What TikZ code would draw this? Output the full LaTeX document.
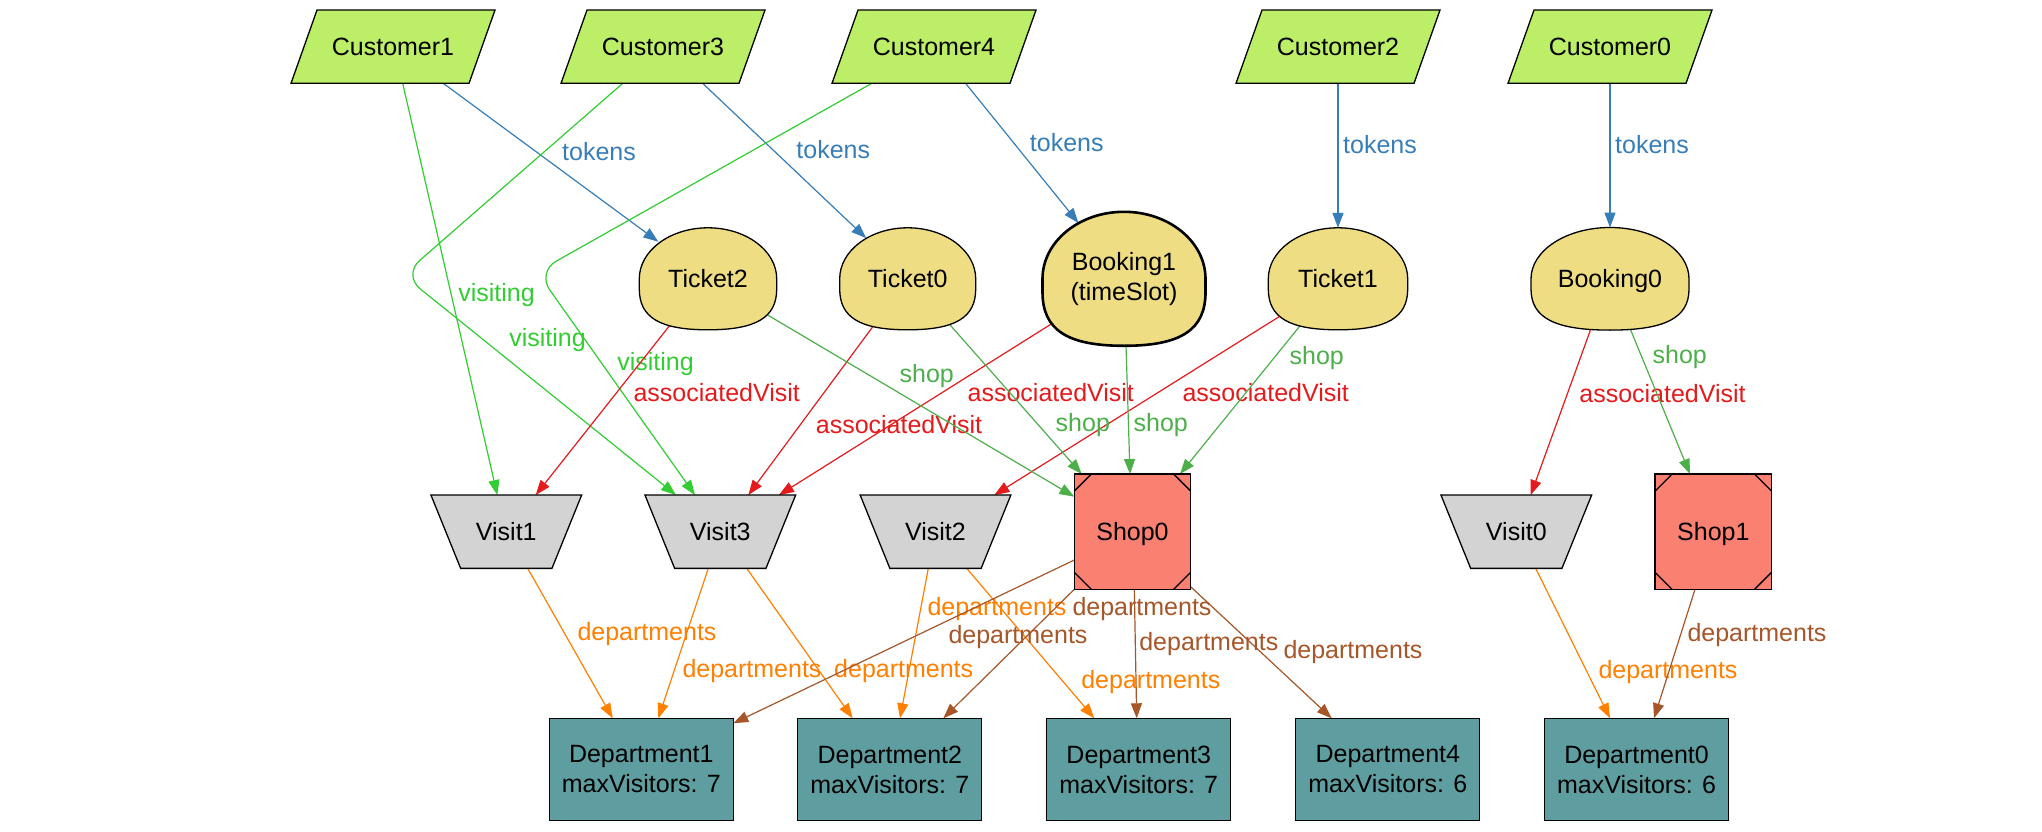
\documentclass[tikz,border=0pt]{standalone}
\usepackage{fontspec}
\setmainfont{Liberation Sans}
\usetikzlibrary{arrows.meta}

\definecolor{custgreen}{HTML}{BCEE68}
\definecolor{tokyellow}{HTML}{EEDD82}
\definecolor{visitgray}{HTML}{D3D3D3}
\definecolor{shopsalmon}{HTML}{FA8072}
\definecolor{deptcadet}{HTML}{5F9EA0}
\definecolor{tokblue}{HTML}{377EB8}
\definecolor{assocred}{HTML}{E41A1C}
\definecolor{shopgreen}{HTML}{4DAF4A}
\definecolor{visitlime}{HTML}{32CD32}
\definecolor{deptorange}{HTML}{FF7F00}
\definecolor{deptbrown}{HTML}{A65628}

\pgfdeclarelayer{edgelayer}
\pgfdeclarelayer{shapelayer}
\pgfsetlayers{edgelayer,shapelayer,main}

\begin{document}
\begin{tikzpicture}[x=1pt, y=-1pt,
  every node/.style={font=\fontsize{25}{30}\selectfont, inner sep=0pt, outer sep=0pt},
  oneline/.style={text height=18.2pt, text depth=0pt},
  custnode/.style={oneline, minimum width=204, minimum height=73.3},
  visitnode/.style={oneline, minimum width=150.7, minimum height=73.3},
  shopnode/.style={oneline, draw, line width=1.3pt, fill=shopsalmon, minimum width=116.4, minimum height=115.3},
  deptnode/.style={draw, line width=1.3pt, fill=deptcadet, minimum width=184, minimum height=102.4, align=center},
  custbody/.style={draw, line width=1.3pt, fill=custgreen},
  tokbody/.style={draw, line width=1.3pt, fill=tokyellow},
  visitbody/.style={draw, line width=1.3pt, fill=visitgray},
  link/.style={line width=1.2pt, -{Triangle[length=15pt,width=11pt]}},
  tokarrow/.style={link, color=tokblue},
  visarrow/.style={link, color=visitlime},
  assocarrow/.style={link, color=assocred},
  shoparrow/.style={link, color=shopgreen},
  deptarrow/.style={link, color=deptorange},
  deptbarrow/.style={link, color=deptbrown},
  lbl/.style={anchor=base}
]
\useasboundingbox (0,0) rectangle (2042,832);

% customers
\node[custnode] (c1) at (393,46.7) {Customer1};
\node[custnode] (c3) at (663,46.7) {Customer3};
\node[custnode] (c4) at (934,46.7) {Customer4};
\node[custnode] (c2) at (1338,46.7) {Customer2};
\node[custnode] (c0) at (1610,46.7) {Customer0};

% tickets and bookings
\node[oneline] (t2) at (708,278.8) {Ticket2};
\node[oneline] (t0) at (907.7,278.8) {Ticket0};
\node[align=center] (b1) at (1124,278.8) {Booking1\\(timeSlot)};
\node[oneline] (t1) at (1338,278.8) {Ticket1};
\node[oneline] (b0) at (1610,278.8) {Booking0};

% visits and shops
\node[visitnode] (v1) at (506.3,531.7) {Visit1};
\node[visitnode] (v3) at (720.3,531.7) {Visit3};
\node[visitnode] (v2) at (935.5,531.7) {Visit2};
\node[shopnode] (s0) at (1132.5,531.7) {Shop0};
\node[visitnode] (v0) at (1516.3,531.7) {Visit0};
\node[shopnode] (s1) at (1713.3,531.7) {Shop1};

% departments
\node[deptnode] (d1) at (641.3,769.5) {Department1\\maxVisitors: 7};
\node[deptnode] (d2) at (889.8,769.5) {Department2\\maxVisitors: 7};
\node[deptnode] (d3) at (1138.7,769.5) {Department3\\maxVisitors: 7};
\node[deptnode] (d4) at (1387.8,769.5) {Department4\\maxVisitors: 6};
\node[deptnode] (d0) at (1636.5,769.5) {Department0\\maxVisitors: 6};

\foreach \n in {s0,s1} {
  \draw[line width=1.3pt] ([shift={(0,17)}]\n.north west) -- ([shift={(17,0)}]\n.north west);
  \draw[line width=1.3pt] ([shift={(-17,0)}]\n.north east) -- ([shift={(0,17)}]\n.north east);
  \draw[line width=1.3pt] ([shift={(0,-17)}]\n.south west) -- ([shift={(17,0)}]\n.south west);
  \draw[line width=1.3pt] ([shift={(-17,0)}]\n.south east) -- ([shift={(0,-17)}]\n.south east);
}

\begin{pgfonlayer}{shapelayer}
  \foreach \n in {c1,c3,c4,c2,c0}
    \draw[custbody] (\n.south west) -- ([shift={(-26,0)}]\n.south east) -- (\n.north east) -- ([shift={(26,0)}]\n.north west) -- cycle;
  \foreach \n/\w/\h/\lw in {t2/68.7/51/1.3, t0/68/51/1.3, t1/69.7/51/1.3, b0/79/51.3/1.3, b1/81.5/67/2.6}
    \draw[tokbody, line width=\lw pt] ([shift={(-\w,0)}]\n.center) arc[start angle=180, end angle=0, x radius=\w pt, y radius=\h pt]
      -- ([shift={(\w,0.2*\h)}]\n.center)
      .. controls ([shift={(\w,0.76*\h)}]\n.center) and ([shift={(0.7*\w,\h)}]\n.center) .. ([shift={(0,\h)}]\n.center)
      .. controls ([shift={(-0.7*\w,\h)}]\n.center) and ([shift={(-\w,0.76*\h)}]\n.center) .. ([shift={(-\w,0.2*\h)}]\n.center)
      -- cycle;
  \foreach \n in {v1,v3,v2,v0}
    \draw[visitbody] (\n.north west) -- (\n.north east) -- ([shift={(-29.7,0)}]\n.south east) -- ([shift={(29.7,0)}]\n.south west) -- cycle;
\end{pgfonlayer}

\begin{pgfonlayer}{edgelayer}
\fill[white] (0,0) rectangle (2042,832);

% tokens
\draw[tokarrow] ([shift={(50.3,0)}]c1.south) -- ([shift={(-49.7,-37.1)}]t2.center) node[lbl] (lt1) at (599,160.7) {tokens};
\draw[tokarrow] ([shift={(39.7,0)}]c3.south) -- ([shift={(-41.5,-40.6)}]t0.center) node[lbl] (lt2) at (833.3,158.3) {tokens};
\draw[tokarrow] ([shift={(31.6,0)}]c4.south) -- ([shift={(-45.6,-55.8)}]b1.center) node[lbl] (lt3) at (1066.8,151.7) {tokens};
\draw[tokarrow] (c2.south) -- ([shift={(0,-51)}]t1.center) node[lbl] (lt4) at (1380,153.5) {tokens};
\draw[tokarrow] (c0.south) -- ([shift={(0,-51.3)}]b0.center) node[lbl] (lt5) at (1652,153.3) {tokens};

% visiting
\coordinate (k3) at (403,275);
\coordinate (k4) at (537,272);
\draw[visarrow] ([shift={(9.7,0)}]c1.south) -- ([shift={(-9,0)}]v1.north) node[lbl] (lv1) at (496.5,301.7) {visiting};
\draw[visarrow, rounded corners=22pt] ([shift={(-40.3,0)}]c3.south) -- (k3) -- ([shift={(-44.3,0)}]v3.north) node[lbl] (lv3) at (547.5,346.7) {visiting};
\draw[visarrow, rounded corners=22pt] ([shift={(-62.3,0)}]c4.south) -- (k4) -- ([shift={(-25.3,0)}]v3.north) node[lbl] (lv4) at (655.5,370) {visiting};

% associatedVisit
\draw[assocarrow] ([shift={(-34.3,41.6)}]t2.center) -- ([shift={(29.4,0)}]v1.north) node[lbl] (la2) at (716.7,401.7) {associatedVisit};
\draw[assocarrow] ([shift={(-30.2,41.5)}]t0.center) -- ([shift={(28,0)}]v3.north) node[lbl] (la0) at (899,433.5) {associatedVisit};
\draw[assocarrow] ([shift={(-63.2,39.2)}]b1.center) -- ([shift={(58.7,0)}]v3.north) node[lbl] (lab1) at (1050.8,401.7) {associatedVisit};
\draw[assocarrow] ([shift={(-52.2,33.7)}]t1.center) -- ([shift={(58.8,0)}]v2.north) node[lbl] (la1) at (1265.7,401.7) {associatedVisit};
\draw[assocarrow] ([shift={(-17.1,44.4)}]b0.center) -- ([shift={(14.4,0)}]v0.north) node[lbl] (lab0) at (1662.5,402.3) {associatedVisit};

% shop
\draw[shoparrow] ([shift={(54.4,33.1)}]t2.center) -- ([shift={(0,-35)}]s0.west) node[lbl] (ls2) at (926.7,382.7) {shop};
\draw[shoparrow] ([shift={(38,41.2)}]t0.center) -- ([shift={(-50.8,0)}]s0.north) node[lbl] (ls0) at (1082.8,431.7) {shop};
\draw[shoparrow] ([shift={(1.8,60)}]b1.center) -- ([shift={(-2.5,0)}]s0.north) node[lbl] (lsb1) at (1160.7,431.7) {shop};
\draw[shoparrow] ([shift={(-33.7,41.7)}]t1.center) -- ([shift={(47.5,0)}]s0.north) node[lbl] (ls1) at (1316.7,364) {shop};
\draw[shoparrow] ([shift={(17.9,44.5)}]b0.center) -- ([shift={(-23.3,0)}]s1.north) node[lbl] (lsb0) at (1679.7,363.3) {shop};

% departments
\draw[deptarrow] ([shift={(21.4,0)}]v1.south) -- ([shift={(-28.6,0)}]d1.north) node[lbl] (ld1) at (647,640) {departments};
\draw[deptarrow] ([shift={(-12,0)}]v3.south) -- ([shift={(17,0)}]d1.north) node[lbl] (ld2) at (752,677.3) {departments};
\draw[deptarrow] ([shift={(26.4,0)}]v3.south) -- ([shift={(-37.1,0)}]d2.north) node[lbl] (ld3) at (903.7,677.3) {departments};
\draw[deptarrow] ([shift={(-7.2,0)}]v2.south) -- ([shift={(10.2,0)}]d2.north) node[lbl] (ld4) at (997,615) {departments};
\draw[deptarrow] ([shift={(31.2,0)}]v2.south) -- ([shift={(-44.4,0)}]d3.north) node[lbl] (ld5) at (1150.8,688.3) {departments};
\draw[deptarrow] ([shift={(19.4,0)}]v0.south) -- ([shift={(-26.5,0)}]d0.north) node[lbl] (ld6) at (1668,678.3) {departments};
\draw[deptbarrow] ([shift={(0,28.3)}]s0.west) -- ([shift={(0,5)}]d1.north east) node[lbl] (lb1) at (1018,643.3) {departments};
\draw[deptbarrow] (s0.south west) -- ([shift={(53.5,0)}]d2.north) node[lbl] (lb2) at (1142,615) {departments};
\draw[deptbarrow] ([shift={(1.8,0)}]s0.south) -- ([shift={(-2,0)}]d3.north) node[lbl] (lb3) at (1208.8,650) {departments};
\draw[deptbarrow] ([shift={(0,-2.6)}]s0.south east) -- ([shift={(-56.1,0)}]d4.north) node[lbl] (lb4) at (1353,658.3) {departments};
\draw[deptbarrow] ([shift={(-18.3,0)}]s1.south) -- ([shift={(17.5,0)}]d0.north) node[lbl] (lb5) at (1757,641.7) {departments};
\end{pgfonlayer}

\end{tikzpicture}
\end{document}
